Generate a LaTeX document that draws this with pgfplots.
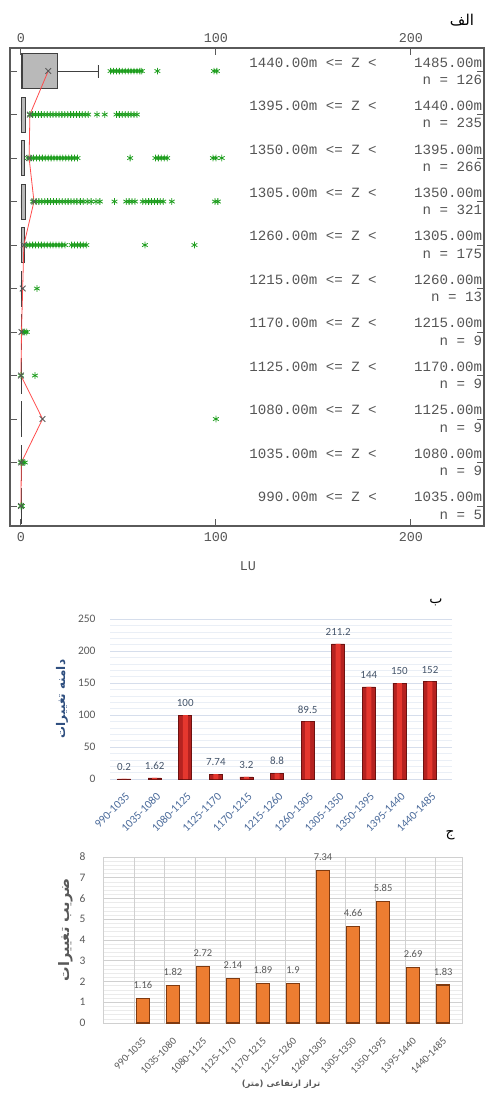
\documentclass[border=0pt]{standalone}
\usepackage{fontspec}
\setmainfont{Carlito}
\newfontfamily\monofont{Liberation Mono}
\newfontfamily\arabicfont[Script=Arabic]{DejaVu Sans}
\usepackage{pgfplots}
\usepackage{pgfplotstable}
\pgfplotsset{compat=1.18}
\usepgfplotslibrary{statistics}
\TeXXeTstate=1
\definecolor{framec}{HTML}{5A5A5A}
\definecolor{labgray}{HTML}{555555}
\definecolor{outg}{HTML}{1E9E1E}
\definecolor{barred}{HTML}{E5372E}
\definecolor{barmid}{HTML}{B52220}
\definecolor{bardark}{HTML}{6E1210}
\definecolor{valblue}{HTML}{44546A}
\definecolor{tickblue}{HTML}{4A6A9A}
\definecolor{ylabblue}{HTML}{2F4F7F}
\definecolor{gridblue}{HTML}{D6DEEC}
\definecolor{gridblue2}{HTML}{EAEFF6}
\definecolor{orangebar}{HTML}{ED7D31}
\definecolor{orangedark}{HTML}{7F3A10}
\definecolor{txtgray}{HTML}{595959}
\definecolor{gridgray}{HTML}{D0D0D0}
\definecolor{gridgray2}{HTML}{EBEBEB}
\tikzset{rl/.style={font=\monofont\fontsize{14.2}{15}\selectfont, text=labgray, inner sep=0pt},
  tl/.style={font=\monofont\fontsize{13.5}{14}\selectfont, text=labgray, inner sep=0pt}}
\newcommand\rowlab[4]{%
 \node[rl,anchor=east] at (axis cs:182.6,#1+0.2) {#2.00m <= Z <};
 \node[rl,anchor=east] at (axis cs:236.6,#1+0.2) {#3.00m};
 \node[rl,anchor=east] at (axis cs:236.6,#1-0.2) {n = #4};}
\newcommand\bx[4]{%
 \addplot[boxplot prepared={draw position=#1, lower whisker=0, lower quartile=0, median=#2, upper quartile=#3, upper whisker=#4, box extend=0.8, whisker extend=0.3}, draw=black!75, fill=gray!55, line width=0.8bp] coordinates {};}

\pgfplotstableread{
x y lab
0 0.2 0.2
1 1.62 1.62
2 100 100
3 7.74 7.74
4 3.2 3.2
5 8.8 8.8
6 89.5 89.5
7 211.2 211.2
8 144 144
9 150 150
10 152 152
}\rangetab
\pgfplotstableread{
x y lab
0 1.16 1.16
1 1.82 1.82
2 2.72 2.72
3 2.14 2.14
4 1.89 1.89
5 1.9 1.9
6 7.34 7.34
7 4.66 4.66
8 5.85 5.85
9 2.69 2.69
10 1.83 1.83
}\cvtab

\begin{document}
\begin{tikzpicture}
\useasboundingbox (0,0) rectangle (485bp,-1094bp);

% ---------------- panel a ----------------
\begin{axis}[
 at={(10bp,-526bp)}, anchor=south west, scale only axis,
 width=474bp, height=478bp,
 xmin=-5.6, xmax=237.5, ymin=-0.46, ymax=10.53,
 axis line style={draw=framec, line width=1.3bp},
 xtick={0,100,200}, xticklabels={},
 ytick={0,...,10}, yticklabels={},
 tick align=inside, major tick length=7bp,
 tick style={draw=framec, line width=0.9bp},
 xlabel={LU},
 xlabel style={font=\monofont\fontsize{13.5}{14}\selectfont, text=labgray, at={(axis description cs:0.502,-0.0837)}, anchor=center},
 clip=false,
]
\bx{10}{1}{18.5}{39.5}
\bx{9}{0.5}{2.2}{2.2}
\bx{8}{0.5}{2}{2}
\bx{7}{0.5}{2.5}{2.5}
\bx{6}{0.5}{2}{2}
\bx{5}{0.1}{0.5}{0.5}
\bx{4}{0.1}{0.5}{0.5}
\bx{3}{0.1}{0.5}{0.5}
\bx{2}{0.1}{0.5}{0.5}
\bx{1}{0.1}{0.3}{0.3}
\bx{0}{0.1}{0.3}{0.3}
% outliers
\addplot[only marks, mark=asterisk, mark size=3.3bp, color=outg, line width=0.8bp] coordinates {
(46,10)(47.5,10)(49,10)(50.5,10)(52,10)(53.5,10)(55,10)(56.5,10)(58,10)(59.5,10)(61,10)(62,10)(70,10)(99,10)(100.5,10)
(4.6,9)(6,9)(7.5,9)(9,9)(10.5,9)(12,9)(13.5,9)(15,9)(16.5,9)(18,9)(19.5,9)(21,9)(22.5,9)(24,9)(25.5,9)(27,9)(28.5,9)(30,9)(31.5,9)(33,9)(34.5,9)(39,9)(43,9)(49,9)(50.5,9)(52,9)(53.5,9)(55,9)(56.5,9)(58,9)(59.5,9)
(3.6,8)(5,8)(6.5,8)(8,8)(9.5,8)(11,8)(12.5,8)(14,8)(15.5,8)(17,8)(18.5,8)(20,8)(21.5,8)(23,8)(24.5,8)(26,8)(27.5,8)(29,8)(56,8)(69,8)(70.5,8)(72,8)(73.5,8)(75,8)(98.5,8)(100,8)(103,8)
(6.2,7)(7.7,7)(9.2,7)(10.7,7)(12.2,7)(13.7,7)(15.2,7)(16.7,7)(18.2,7)(19.7,7)(21.2,7)(22.7,7)(24.2,7)(25.7,7)(27.2,7)(28.7,7)(30.5,7)(32,7)(34,7)(36,7)(38.5,7)(40.5,7)(48,7)(54,7)(55.5,7)(57,7)(58.5,7)(62.5,7)(64,7)(65.5,7)(67,7)(68.5,7)(70,7)(71.5,7)(73,7)(77.4,7)(99.5,7)(101,7)
(3,6)(4.5,6)(6,6)(7.5,6)(9,6)(10.5,6)(12,6)(13.5,6)(15,6)(16.5,6)(18,6)(19.5,6)(21,6)(22.6,6)(26,6)(27.5,6)(29,6)(30.5,6)(32,6)(33.5,6)(63.6,6)(89,6)
(8.2,5)
(1,4)(2,4)(3,4)
(0,3)(7.2,3)
(100,2)
(0,1)(1,1)(2,1)
(0,0)(0.5,0)
};
% means
\addplot[color=red!70, line width=0.8bp, mark=x, mark size=4bp, mark options={draw=black!65, line width=0.9bp}] coordinates {
(0,0) (0.2,1) (11.1,2) (0,3) (0.3,4) (0.9,5) (1.5,6) (6.7,7) (4.2,8) (4.6,9) (14,10)};
\rowlab{10}{1440}{1485}{126}
\rowlab{9}{1395}{1440}{235}
\rowlab{8}{1350}{1395}{266}
\rowlab{7}{1305}{1350}{321}
\rowlab{6}{1260}{1305}{175}
\rowlab{5}{1215}{1260}{13}
\rowlab{4}{1170}{1215}{9}
\rowlab{3}{1125}{1170}{9}
\rowlab{2}{1080}{1125}{9}
\rowlab{1}{1035}{1080}{9}
\rowlab{0}{990}{1035}{5}
\node[tl, yshift=-11bp] at (axis cs:0,-0.46) {0};
\node[tl, yshift=-11bp] at (axis cs:100,-0.46) {100};
\node[tl, yshift=-11bp] at (axis cs:200,-0.46) {200};
\node[tl, yshift=10bp] at (axis cs:0,10.53) {0};
\node[tl, yshift=10bp] at (axis cs:100,10.53) {100};
\node[tl, yshift=10bp] at (axis cs:200,10.53) {200};
\end{axis}

% ---------------- panel b ----------------
\begin{axis}[
 at={(110bp,-779bp)}, anchor=south west, scale only axis,
 width=342bp, height=160bp,
 xmin=-0.46, xmax=10.72, ymin=0, ymax=250,
 ybar, bar width=13bp,
 axis line style={draw=none}, major tick length=0pt, minor tick length=0pt,
 ytick={0,50,...,250}, minor y tick num=4,
 ymajorgrids, yminorgrids,
 major grid style={draw=gridblue, line width=0.8bp},
 minor grid style={draw=gridblue2, line width=0.6bp},
 xtick={0,...,10},
 xticklabels={990-1035,1035-1080,1080-1125,1125-1170,1170-1215,1215-1260,1260-1305,1305-1350,1350-1395,1395-1440,1440-1485},
 xticklabel style={xshift=1bp, yshift=-8bp, rotate=45, anchor=north east, font=\fontsize{11.5}{11.5}\selectfont, text=tickblue},
 yticklabel style={font=\fontsize{11.5}{11.5}\selectfont, text=txtgray, xshift=-11bp},
 /pgf/number format/assume math mode=true,
 ylabel={\arabicfont\bfseries\fontsize{12}{12}\selectfont\beginR دامنه تغییرات\endR},
 ylabel style={at={(axis description cs:-0.14,0.5)}, anchor=center, text=ylabblue},
 clip=false,
]
\addplot[bar shift=0pt, draw=bardark, line width=0.6bp, fill=barmid,
  nodes near coords, point meta=explicit symbolic,
  every node near coord/.append style={font=\fontsize{11}{11}\selectfont, text=valblue, yshift=5bp}]
  table[x=x, y=y, meta=lab] {\rangetab};
\addplot[bar shift=0pt, bar width=5bp, draw=none, fill=barred] table[x=x, y=y] {\rangetab};
\end{axis}

% ---------------- panel c ----------------
\begin{axis}[
 at={(103bp,-1023bp)}, anchor=south west, scale only axis,
 width=359bp, height=166bp,
 xmin=-1.33, xmax=10.63, ymin=0, ymax=8,
 ybar, bar width=13bp,
 axis line style={draw=gridgray}, major tick length=0pt, minor tick length=0pt,
 ytick={0,...,8}, minor y tick num=4,
 ymajorgrids, yminorgrids,
 major grid style={draw=gridgray, line width=0.7bp},
 minor grid style={draw=gridgray2, line width=0.5bp},
 xtick={0,...,10},
 extra x ticks={-0.27,0.73,...,9.73}, extra x tick labels={},
 extra x tick style={grid=major, major grid style={draw=gridgray, line width=0.7bp}},
 xticklabels={990-1035,1035-1080,1080-1125,1125-1170,1170-1215,1215-1260,1260-1305,1305-1350,1350-1395,1395-1440,1440-1485},
 xticklabel style={xshift=-1bp, yshift=-9bp, rotate=45, anchor=north east, font=\fontsize{10.5}{10.5}\selectfont, text=txtgray},
 yticklabel style={font=\fontsize{11.5}{11.5}\selectfont, text=txtgray, xshift=-14bp},
 /pgf/number format/assume math mode=true,
 ylabel={\arabicfont\bfseries\fontsize{14.5}{14.5}\selectfont\beginR ضریب تغییرات\endR},
 ylabel style={at={(axis description cs:-0.105,0.56)}, anchor=center, text=txtgray},
 xlabel={\arabicfont\bfseries\fontsize{8.5}{8.5}\selectfont\beginR تراز ارتفاعی (متر)\endR},
 xlabel style={at={(axis description cs:0.496,-0.37)}, anchor=center, text=txtgray},
 nodes near coords, point meta=explicit symbolic,
 every node near coord/.append style={font=\fontsize{10.5}{10.5}\selectfont, text=txtgray, yshift=6bp},
 clip=false,
]
\addplot[draw=orangedark, line width=1.1bp, fill=orangebar] table[x=x, y=y, meta=lab] {\cvtab};
\end{axis}

\node at (462bp,-20bp) {\arabicfont\fontsize{15}{15}\selectfont\beginR الف\endR};
\node at (436bp,-602bp) {\arabicfont\fontsize{14}{14}\selectfont\beginR ب\endR};
\node at (450bp,-835bp) {\arabicfont\fontsize{14}{14}\selectfont\beginR ج\endR};
\end{tikzpicture}
\end{document}
